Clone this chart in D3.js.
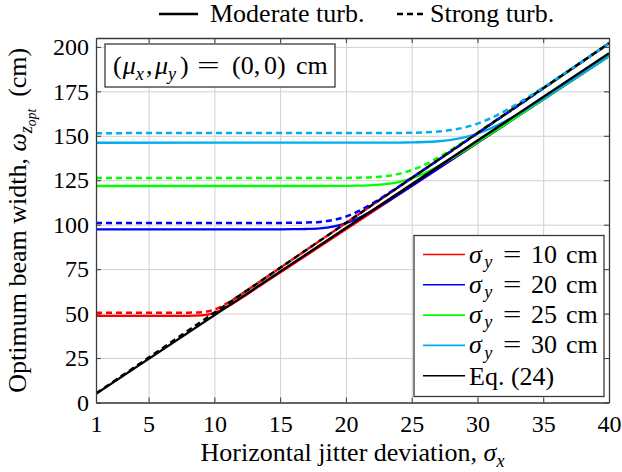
<!DOCTYPE html>
<html>
<head>
<meta charset="utf-8">
<script src="https://cdn.jsdelivr.net/npm/d3@7"></script>
<style>
  body { margin: 0; background: #fff; }
  svg { display: block; }
  text { font-family: "Liberation Serif", "Times New Roman", serif; fill: #000; }
</style>
</head>
<body>
<svg id="chart" width="622" height="472"></svg>
<script>
// Axis ticks
const xTicks = [1, 5, 10, 15, 20, 25, 30, 35, 40];
const yTicks = [0, 25, 50, 75, 100, 125, 150, 175, 200];

// Eq. (24): linear approximation of the optimum beam width
const eqX = [1, 40];
const eqModerate = [4.91, 196.4];
const eqStrong = [5.05, 202];

// sigma_y = 10 cm
const sig10X = [1, 7, 8, 9, 10, 11, 12, 13, 15, 40];
const sig10Moderate = [48.7, 48.7, 48.73, 48.98, 50.42, 53.94, 58.52, 63.33, 73.05, 194.8];
const sig10Strong = [50.5, 50.5, 50.53, 50.79, 52.28, 55.94, 60.68, 65.67, 75.75, 202];

// sigma_y = 20 cm
const sig20X = [1, 15, 16, 17, 18, 19, 20, 21, 22, 23, 24, 26, 40];
const sig20Moderate = [97.4, 97.42, 97.46, 97.59, 97.96, 98.9, 100.83, 103.92, 107.88, 112.34, 117.03, 126.65, 194.8];
const sig20Strong = [101, 101.02, 101.06, 101.19, 101.58, 102.56, 104.56, 107.76, 111.87, 116.49, 121.36, 131.33, 202];

// sigma_y = 25 cm
const sig25X = [1, 18, 20, 21, 22, 23, 24, 25, 26, 27, 28, 29, 30, 33, 40];
const sig25Moderate = [121.75, 121.76, 121.82, 121.93, 122.21, 122.81, 124.0, 126.04, 129.02, 132.77, 137.03, 141.58, 146.29, 160.74, 194.8];
const sig25Strong = [126.25, 126.26, 126.32, 126.44, 126.72, 127.35, 128.58, 130.7, 133.79, 137.68, 142.1, 146.82, 151.7, 166.68, 202];

// sigma_y = 30 cm
const sig30X = [1, 21, 24, 25, 26, 27, 28, 29, 30, 31, 32, 33, 34, 35, 38, 40];
const sig30Moderate = [146.1, 146.11, 146.18, 146.29, 146.51, 146.94, 147.75, 149.13, 151.25, 154.16, 157.74, 161.83, 166.23, 170.83, 185.14, 194.8];
const sig30Strong = [151.5, 151.51, 151.59, 151.7, 151.92, 152.37, 153.21, 154.64, 156.84, 159.86, 163.57, 167.81, 172.38, 177.15, 191.98, 202];

const legendValues = ["10", "20", "25", "30"];
const seriesColors = ["#ff0000", "#0000ff", "#00ff00", "#00aeef"];

const series = [
  { x: sig10X, mod: sig10Moderate, str: sig10Strong, color: seriesColors[0] },
  { x: sig20X, mod: sig20Moderate, str: sig20Strong, color: seriesColors[1] },
  { x: sig25X, mod: sig25Moderate, str: sig25Strong, color: seriesColors[2] },
  { x: sig30X, mod: sig30Moderate, str: sig30Strong, color: seriesColors[3] }
];

const svg = d3.select("#chart");
const plotLeft = 96, plotRight = 609, plotTop = 38, plotBottom = 402.5;
const x = d3.scaleLinear().domain([1, 40]).range([plotLeft, plotRight]);
const y = d3.scaleLinear().domain([0, 205]).range([plotBottom, plotTop]);

const DASH = "6,4";
const frameColor = "#3a3a3a";
const FS = 26;       // label font size
const TICK_FS = 24;  // tick label font size

// Grid
svg.append("g").attr("transform", `translate(0,${plotBottom})`)
  .call(d3.axisBottom(x).tickValues(xTicks).tickSize(-(plotBottom - plotTop)).tickFormat(""))
  .call(g => g.select(".domain").remove())
  .call(g => g.selectAll("line").attr("stroke", "#d0d0d0").attr("stroke-width", 1));
svg.append("g").attr("transform", `translate(${plotLeft},0)`)
  .call(d3.axisLeft(y).tickValues(yTicks).tickSize(-(plotRight - plotLeft)).tickFormat(""))
  .call(g => g.select(".domain").remove())
  .call(g => g.selectAll("line").attr("stroke", "#d0d0d0").attr("stroke-width", 1));

svg.append("clipPath").attr("id", "plotClip")
  .append("rect").attr("x", plotLeft).attr("y", plotTop)
  .attr("width", plotRight - plotLeft).attr("height", plotBottom - plotTop);

const plot = svg.append("g").attr("clip-path", "url(#plotClip)");

const line = d3.line().curve(d3.curveMonotoneX);
const pathOf = (xs, ys) => line(xs.map((v, i) => [x(v), y(ys[i])]));

series.forEach(s => {
  plot.append("path").attr("d", pathOf(s.x, s.mod))
    .attr("fill", "none").attr("stroke", s.color).attr("stroke-width", 2.3);
});
series.forEach(s => {
  plot.append("path").attr("d", pathOf(s.x, s.str))
    .attr("fill", "none").attr("stroke", s.color).attr("stroke-width", 2.5)
    .attr("stroke-dasharray", DASH);
});
plot.append("path").attr("d", pathOf(eqX, eqModerate))
  .attr("fill", "none").attr("stroke", "#000").attr("stroke-width", 2.3);
plot.append("path").attr("d", pathOf(eqX, eqStrong))
  .attr("fill", "none").attr("stroke", "#000").attr("stroke-width", 2.5)
  .attr("stroke-dasharray", DASH);

// Axes with inward ticks on all four sides
const styleAxis = g => {
  g.select(".domain").attr("stroke", frameColor).attr("stroke-width", 1.3);
  g.selectAll(".tick line").attr("stroke", frameColor).attr("stroke-width", 1);
  g.selectAll(".tick text").style("font-size", TICK_FS + "px").attr("fill", "#000");
};
svg.append("g").attr("transform", `translate(0,${plotBottom})`)
  .call(d3.axisBottom(x).tickValues(xTicks).tickSizeInner(-5).tickSizeOuter(0).tickPadding(12).tickFormat(d3.format("d")))
  .call(styleAxis);
svg.append("g").attr("transform", `translate(${plotLeft},0)`)
  .call(d3.axisLeft(y).tickValues(yTicks).tickSizeInner(-5).tickSizeOuter(0).tickPadding(7).tickFormat(d3.format("d")))
  .call(styleAxis);
svg.append("g").attr("transform", `translate(0,${plotTop})`)
  .call(d3.axisTop(x).tickValues(xTicks).tickSizeInner(-5).tickSizeOuter(0).tickFormat(""))
  .call(styleAxis);
svg.append("g").attr("transform", `translate(${plotRight},0)`)
  .call(d3.axisRight(y).tickValues(yTicks).tickSizeInner(-5).tickSizeOuter(0).tickFormat(""))
  .call(styleAxis);

// Math-style text helper: parts of {t, it, sub, subsub, x, dx}
function mathText(sel, parts, size, subShift = 0.24) {
  let level = 0;
  const offsets = [0, subShift * size, (subShift + 0.18) * size];
  parts.forEach(p => {
    const target = p.subsub ? 2 : (p.sub ? 1 : 0);
    const dy = offsets[target] - offsets[level];
    const fs = target === 0 ? size : (target === 1 ? size * 0.7 : size * 0.52);
    const ts = sel.append("tspan").text(p.t).style("font-size", fs + "px");
    if (p.it) ts.style("font-style", "italic");
    if (dy !== 0) ts.attr("dy", dy);
    if (p.x !== undefined) ts.attr("x", p.x);
    if (p.dx !== undefined) ts.attr("dx", p.dx);
    level = target;
  });
}

// A wide equals sign, as in typeset math
function wideEquals(parent, px, py, stretch) {
  parent.append("text").attr("transform", `translate(${px},${py}) scale(${stretch},1)`)
    .style("font-size", FS + "px").text("=");
}

// X axis title
const xt = svg.append("text").attr("x", (plotLeft + plotRight) / 2).attr("y", 461).attr("text-anchor", "middle");
mathText(xt, [{ t: "Horizontal jitter deviation, " }, { t: "σ", it: true }, { t: "x", it: true, sub: true }], FS);

// Y axis title
const yt = svg.append("text")
  .attr("transform", `translate(25.5,${(plotTop + plotBottom) / 2}) rotate(-90)`)
  .attr("text-anchor", "middle");
mathText(yt, [{ t: "Optimum beam width, " }, { t: "ω", it: true }, { t: "z", it: true, sub: true },
  { t: "opt", it: true, subsub: true }, { t: "(cm)", dx: 12 }], FS);

// Top legend: turbulence regimes
svg.append("line").attr("x1", 159).attr("x2", 198).attr("y1", 14).attr("y2", 14)
  .attr("stroke", "#000").attr("stroke-width", 2.3);
svg.append("text").attr("x", 210).attr("y", 22).style("font-size", FS + "px").text("Moderate turb.");
svg.append("line").attr("x1", 397).attr("x2", 423).attr("y1", 14).attr("y2", 14)
  .attr("stroke", "#000").attr("stroke-width", 2.5).attr("stroke-dasharray", DASH);
svg.append("text").attr("x", 430).attr("y", 22).style("font-size", FS + "px").text("Strong turb.");

// Mean offset annotation
svg.append("rect").attr("x", 105).attr("y", 44).attr("width", 230).attr("height", 43)
  .attr("fill", "#fff").attr("stroke", frameColor).attr("stroke-width", 1.3);
const mt = svg.append("text").attr("x", 113).attr("y", 74);
mathText(mt, [{ t: "(" }, { t: "μ", it: true, dx: 1 }, { t: "x", it: true, sub: true }, { t: ",", x: 146 },
  { t: "μ", it: true, x: 155 }, { t: "y", it: true, sub: true }, { t: ")", x: 180 },
  { t: "(0,", x: 232 }, { t: "0)", x: 264 }, { t: "cm", x: 296 }], FS);
wideEquals(svg, 197, 74, 1.55);

// Series legend
const lg = svg.append("g");
lg.append("rect").attr("x", 414).attr("y", 235.5).attr("width", 190).attr("height", 161)
  .attr("fill", "#fff").attr("stroke", frameColor).attr("stroke-width", 1.3);
const rowY = i => 254.5 + i * 30.3;
legendValues.forEach((v, i) => {
  lg.append("line").attr("x1", 423).attr("x2", 465).attr("y1", rowY(i)).attr("y2", rowY(i))
    .attr("stroke", seriesColors[i]).attr("stroke-width", 1.6);
  const t = lg.append("text").attr("x", 469).attr("y", rowY(i) + 8);
  mathText(t, [{ t: "σ", it: true }, { t: "y", it: true, sub: true, dx: 2.5 },
    { t: v, x: 531 }, { t: "cm", x: 566 }], FS, 0.2);
  wideEquals(lg, 503, rowY(i) + 8, 1.25);
});
lg.append("line").attr("x1", 423).attr("x2", 465).attr("y1", rowY(4)).attr("y2", rowY(4))
  .attr("stroke", "#000").attr("stroke-width", 1.6);
lg.append("text").attr("x", 469).attr("y", rowY(4) + 9).style("font-size", FS + "px").text("Eq. (24)");
</script>
</body>
</html>
